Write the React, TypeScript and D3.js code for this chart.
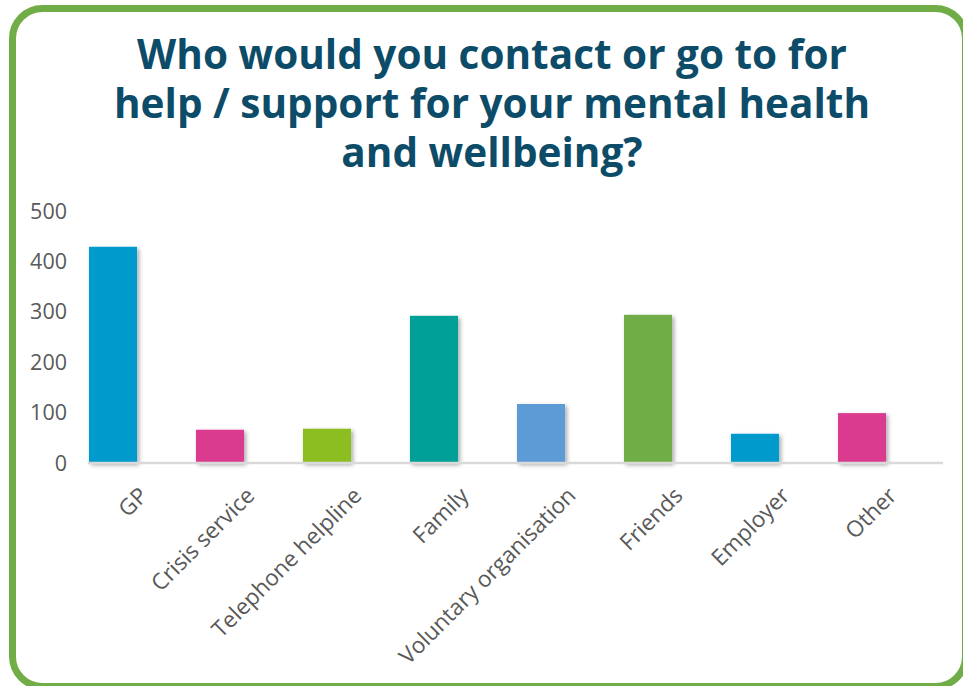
import React from "react";
import * as d3 from "d3";

const titleLines = ["Who would you contact or go to for", "help / support for your mental health", "and wellbeing?"];
const categories = ["GP", "Crisis service", "Telephone helpline", "Family", "Voluntary organisation", "Friends", "Employer", "Other"];
const values = [429, 66, 68, 292, 117, 294, 58, 99];
const barColors = ["#009ACD", "#DA3B8E", "#8CBE22", "#00A096", "#5B9BD5", "#70AD47", "#009ACD", "#DA3B8E"];
const yTicks = [0, 100, 200, 300, 400, 500];

const W = 963;
const H = 686;

export default function App() {
  const y = d3.scaleLinear().domain([0, 500]).range([463, 211]);
  const x = d3
    .scaleBand<string>()
    .domain(categories)
    .range([59.5, 915.5])
    .paddingInner(0.551)
    .paddingOuter(0.2755);
  const font = "'Open Sans', 'DejaVu Sans', sans-serif";
  return (
    <div style={{ position: "fixed", left: 0, top: 0, width: W, height: H, background: "#fff" }}>
      <svg width={W} height={H} style={{ display: "block" }}>
        <defs>
          <filter id="shadow" x="-30%" y="-10%" width="160%" height="130%">
            <feDropShadow dx="2" dy="2" stdDeviation="2.2" floodColor="#000" floodOpacity="0.35" />
          </filter>
        </defs>
        <rect x={0} y={0} width={W} height={H} fill="#fff" />
        <rect x={12.5} y={8.5} width={953} height={678} rx={30} ry={30} fill="none" stroke="#70AD47" strokeWidth={7} />
        <text
          x={492}
          y={69}
          textAnchor="middle"
          fontFamily={font}
          fontWeight={700}
          fontSize={40.5}
          fill="#0D4C68"
        >
          {titleLines.map((t, i) => (
            <tspan key={i} x={492} dy={i === 0 ? 0 : 49}>
              {t}
            </tspan>
          ))}
        </text>
        {yTicks.map((t) => (
          <text
            key={t}
            x={67}
            y={y(t)}
            dy="0.35em"
            textAnchor="end"
            fontFamily={font}
            fontSize={21.5}
            fill="#595959"
          >
            {t}
          </text>
        ))}
        {categories.map((c, i) => (
          <rect
            key={c}
            x={x(c)}
            y={y(values[i])}
            width={x.bandwidth()}
            height={y(0) - y(values[i])}
            fill={barColors[i]}
            filter="url(#shadow)"
          />
        ))}
        <line x1={88} x2={943} y1={y(0)} y2={y(0)} stroke="#D9D9D9" strokeWidth={2.5} />
        {categories.map((c) => {
          const cx = (x(c) as number) + x.bandwidth() / 2 + 36;
          const cy = 497;
          return (
            <text
              key={c}
              x={cx}
              y={cy}
              textAnchor="end"
              transform={`rotate(-45 ${cx} ${cy})`}
              fontFamily={font}
              fontSize={22.5}
              fill="#595959"
            >
              {c}
            </text>
          );
        })}
      </svg>
    </div>
  );
}
